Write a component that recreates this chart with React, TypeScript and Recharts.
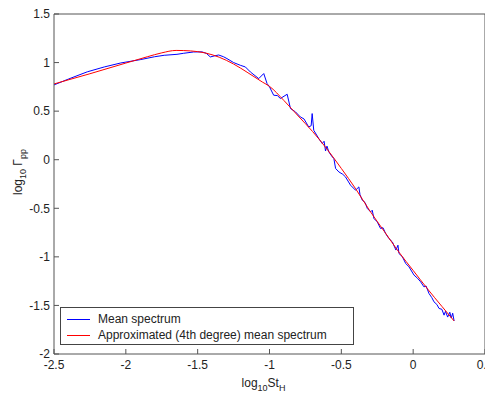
import React from "react";
import { LineChart, Line, XAxis, YAxis, Legend } from "recharts";

const xTicks = [-2.5, -2, -1.5, -1, -0.5, 0, 0.5];
const yTicks = [-2, -1.5, -1, -0.5, 0, 0.5, 1, 1.5];

const meanX = [
  -2.5, -2.4, -2.268, -2.15, -2.035, -1.9, -1.8, -1.733, -1.644, -1.6, -1.529, -1.47, -1.44, -1.412,
  -1.38, -1.354, -1.32, -1.296, -1.25, -1.203, -1.168, -1.133, -1.075, -1.04, -1.017, -1.0, -0.971,
  -0.945, -0.924, -0.877, -0.854, -0.819, -0.785, -0.76, -0.727, -0.71, -0.703, -0.692, -0.657,
  -0.633, -0.62, -0.61, -0.6, -0.587, -0.563, -0.552, -0.54, -0.517, -0.49, -0.471, -0.436, -0.401,
  -0.378, -0.37, -0.354, -0.335, -0.319, -0.296, -0.285, -0.273, -0.25, -0.227, -0.21, -0.192, -0.169,
  -0.145, -0.12, -0.106, -0.099, -0.075, -0.052, -0.029, 0.006, 0.03, 0.052, 0.075, 0.09, 0.11, 0.13,
  0.145, 0.165, 0.18, 0.2, 0.215, 0.225, 0.24, 0.255, 0.265, 0.275, 0.285,
];
const meanY = [
  0.77, 0.83, 0.905, 0.955, 0.996, 1.03, 1.06, 1.075, 1.085, 1.095, 1.109, 1.11, 1.095, 1.058,
  1.07, 1.078, 1.06, 1.041, 1.0, 0.972, 0.955, 0.903, 0.835, 0.887, 0.784, 0.75, 0.664,
  0.66, 0.63, 0.674, 0.527, 0.492, 0.44, 0.42, 0.337, 0.35, 0.475, 0.303, 0.218,
  0.167, 0.19, 0.09, 0.14, 0.08, 0.029, 0.012, -0.09, -0.126, -0.15, -0.177, -0.262, -0.314,
  -0.28, -0.36, -0.417, -0.44, -0.502, -0.537, -0.52, -0.605, -0.64, -0.708, -0.7, -0.759, -0.811,
  -0.846, -0.93, -0.88, -0.965, -1.0, -1.068, -1.103, -1.188, -1.22, -1.257, -1.309, -1.3, -1.377, -1.42,
  -1.463, -1.49, -1.531, -1.54, -1.6, -1.56, -1.62, -1.57, -1.63, -1.58, -1.66,
];

const approxX = [
  -2.5, -2.25, -2.0, -1.85, -1.75, -1.65, -1.55, -1.45, -1.35, -1.25, -1.15, -1.05, -1.0, -0.9,
  -0.8, -0.7, -0.6, -0.5, -0.4, -0.3, -0.2, -0.1, 0.0, 0.1, 0.2, 0.285,
];
const approxY = [
  0.78, 0.885, 0.995, 1.06, 1.1, 1.125, 1.12, 1.1, 1.055, 0.985, 0.895, 0.8, 0.755, 0.61,
  0.45, 0.29, 0.11, -0.09, -0.3, -0.53, -0.74, -0.95, -1.14, -1.33, -1.51, -1.66,
];

const meanData = meanX.map((x, i) => ({ x, y: meanY[i] }));
const approxData = approxX.map((x, i) => ({ x, y: approxY[i] }));

const FONT = "Arial, 'Liberation Sans', sans-serif";
const AXIS = "#555";
const TXT = "#222";

const legendItems = [
  { c: "#0000ff", t: "Mean spectrum" },
  { c: "#ff0000", t: "Approximated (4th degree) mean spectrum" },
];

const LegendBox = () => (
  <div
    style={{
      border: "1px solid #444",
      background: "#fff",
      width: 294,
      height: 38,
      boxSizing: "border-box",
      fontFamily: FONT,
      fontSize: 12,
      color: TXT,
      padding: "3px 0 0 6px",
    }}
  >
    {legendItems.map((e) => (
      <div key={e.t} style={{ display: "flex", alignItems: "center", height: 16, lineHeight: "16px" }}>
        <svg width={23} height={3} style={{ marginRight: 8, display: "block" }}>
          <line x1={0} y1={1.5} x2={23} y2={1.5} stroke={e.c} strokeWidth={1} />
        </svg>
        <span>{e.t}</span>
      </div>
    ))}
  </div>
);

const XLabel = (props: any) => {
  const vb = props.viewBox || {};
  const cx = vb.x + vb.width / 2 - 6;
  const y = vb.y + 33;
  return (
    <text x={cx} y={y} textAnchor="middle" fontFamily={FONT} fontSize={12} fill={TXT}>
      log<tspan fontSize={9} dy={4}>10</tspan>
      <tspan fontSize={12} dy={-4}>St</tspan>
      <tspan fontSize={9} dy={4}>H</tspan>
    </text>
  );
};

const YLabel = (props: any) => {
  const vb = props.viewBox || {};
  const cx = 22;
  const cy = vb.y + vb.height / 2 - 12;
  return (
    <text
      x={cx}
      y={cy}
      textAnchor="middle"
      fontFamily={FONT}
      fontSize={12}
      fill={TXT}
      transform={`rotate(-90 ${cx} ${cy})`}
    >
      log<tspan fontSize={9} dy={4}>10</tspan>
      <tspan fontSize={12} dy={-4}> Γ</tspan>
      <tspan fontSize={9} dy={4}>pp</tspan>
    </text>
  );
};

export default function App() {
  return (
    <div style={{ margin: "-8px 0 0 -8px", width: 493, height: 394, background: "#fff", position: "relative" }}>
      <LineChart width={493} height={394} margin={{ top: 13, right: 7, bottom: 0, left: 0 }}>
        <XAxis
          xAxisId="b"
          type="number"
          dataKey="x"
          domain={[-2.5, 0.5]}
          ticks={xTicks}
          allowDataOverflow
          height={40}
          tickSize={-5}
          tickMargin={11}
          stroke={AXIS}
          tick={{ fill: TXT, fontSize: 12, fontFamily: FONT }}
          tickFormatter={(v: number) => String(v)}
          label={<XLabel />}
        />
        <XAxis
          xAxisId="t"
          orientation="top"
          type="number"
          dataKey="x"
          domain={[-2.5, 0.5]}
          ticks={xTicks}
          allowDataOverflow
          height={1}
          tickSize={-5}
          tick={false}
          stroke={AXIS}
        />
        <YAxis
          yAxisId="l"
          type="number"
          domain={[-2, 1.5]}
          ticks={yTicks}
          allowDataOverflow
          width={54}
          tickSize={-5}
          tickMargin={9}
          stroke={AXIS}
          tick={{ fill: TXT, fontSize: 12, fontFamily: FONT }}
          tickFormatter={(v: number) => String(v)}
          label={<YLabel />}
        />
        <YAxis
          yAxisId="r"
          orientation="right"
          type="number"
          domain={[-2, 1.5]}
          ticks={yTicks}
          allowDataOverflow
          width={1}
          tickSize={-5}
          tick={false}
          stroke={AXIS}
        />
        <Legend
          layout="horizontal"
          verticalAlign="middle"
          align="center"
          content={<LegendBox />}
          wrapperStyle={{ position: "absolute", left: 60, top: 307, width: "auto", bottom: "auto", margin: 0 }}
        />
        <Line
          xAxisId="b"
          yAxisId="l"
          data={meanData}
          dataKey="y"
          type="linear"
          stroke="#0000ff"
          strokeWidth={1}
          dot={false}
          isAnimationActive={false}
          name="Mean spectrum"
        />
        <Line
          xAxisId="b"
          yAxisId="l"
          data={approxData}
          dataKey="y"
          type="monotone"
          stroke="#ff0000"
          strokeWidth={1}
          dot={false}
          isAnimationActive={false}
          name="Approximated (4th degree) mean spectrum"
        />
      </LineChart>
    </div>
  );
}
